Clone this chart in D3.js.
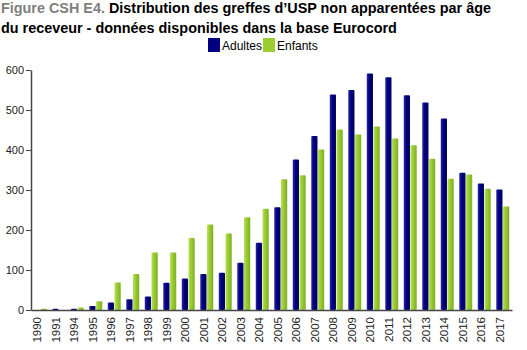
<!DOCTYPE html>
<html>
<head>
<meta charset="utf-8">
<script src="https://cdn.jsdelivr.net/npm/d3@7"></script>
<style>
  body { margin: 0; background: #fff; }
  svg { font-family: "Liberation Sans", Arial, sans-serif; }
</style>
</head>
<body>
<div id="chart"></div>
<script>
const years = ['1990','1991','1994','1995','1996','1997','1998','1999','2000','2001','2002','2003','2004',
    '2005','2006','2007','2008','2009','2010','2011','2012','2013','2014','2015','2016','2017'];
const adultes = [0, 3, 3, 10, 19, 27, 34, 68, 79, 90, 93, 118, 168, 257, 376, 435, 539, 550, 591, 582, 537, 519, 479, 343, 316, 301];
const enfants = [3, 0, 6, 22, 69, 90, 144, 144, 180, 214, 191, 232, 253, 327, 337, 401, 451, 439, 459, 429, 412, 378, 328, 339, 303, 259];
const seriesNames = ['Adultes', 'Enfants'];
const yTicks = [0, 100, 200, 300, 400, 500, 600];

const WIDTH = 527;
const HEIGHT = 350;
const LEFT = 31;
const RIGHT = 512;
const TOP = 70;
const BOTTOM = 310;
const colors = { Adultes: '#000080', Enfants: '#9acd32' };

const svg = d3.select('#chart')
    .append('svg')
    .attr('width', WIDTH)
    .attr('height', HEIGHT);

// gradients for the slight 3D look
const defs = svg.append('defs');
const grads = [['Adultes', '#2a2aa8', '#000080', '#000060'], ['Enfants', '#b8e05a', '#9acd32', '#7fae22']];
grads.forEach(([name, c1, c2, c3]) => {
    const g = defs.append('linearGradient')
        .attr('id', 'grad-' + name)
        .attr('x1', '0%').attr('x2', '100%').attr('y1', '0%').attr('y2', '0%');
    g.append('stop').attr('offset', '0%').attr('stop-color', c1);
    g.append('stop').attr('offset', '40%').attr('stop-color', c2);
    g.append('stop').attr('offset', '100%').attr('stop-color', c3);
});

// Title
const title = svg.append('g').attr('font-size', 14.4).attr('font-weight', 'bold');
const t1 = title.append('text').attr('x', 1).attr('y', 13);
t1.append('tspan').attr('fill', '#808080').text('Figure CSH E4. ');
t1.append('tspan').attr('fill', '#000').text('Distribution des greffes d\u2019USP non apparentées par âge');
title.append('text').attr('x', 1).attr('y', 33).attr('fill', '#000')
    .text('du receveur - données disponibles dans la base Eurocord');

// Scales
const xScale = d3.scaleBand()
    .domain(years)
    .range([LEFT, RIGHT])
    .paddingInner(0.3)
    .paddingOuter(0.15);

const xInner = d3.scaleBand()
    .domain(seriesNames)
    .range([0, xScale.bandwidth()])
    .paddingInner(0.08);

const yScale = d3.scaleLinear()
    .domain([0, 600])
    .range([BOTTOM, TOP]);

// Bars
const rows = years.map((y, i) => ({ year: y, values: [
    { key: 'Adultes', value: adultes[i] },
    { key: 'Enfants', value: enfants[i] }
] }));

svg.append('g')
    .selectAll('g')
    .data(rows)
    .enter()
    .append('g')
    .attr('transform', d => `translate(${xScale(d.year)},0)`)
    .selectAll('rect')
    .data(d => d.values)
    .enter()
    .append('rect')
    .attr('x', d => xInner(d.key))
    .attr('width', xInner.bandwidth())
    .attr('y', d => yScale(d.value))
    .attr('height', d => BOTTOM - yScale(d.value))
    .attr('rx', 1)
    .attr('fill', d => `url(#grad-${d.key})`);

// Axes
const yAxis = d3.axisLeft(yScale)
    .tickValues(yTicks)
    .tickSize(5)
    .tickPadding(2)
    .tickSizeOuter(0);
const yG = svg.append('g')
    .attr('transform', `translate(${LEFT}, 0)`)
    .call(yAxis);
yG.select('.domain').attr('stroke', '#444').attr('stroke-width', 1.5);
yG.selectAll('.tick line').attr('stroke', '#444');
yG.selectAll('.tick text').attr('font-size', 11).attr('fill', '#222')
    .attr('font-family', '"Liberation Sans Narrow", "Arial Narrow", sans-serif');

const xAxis = d3.axisBottom(xScale)
    .tickSize(0)
    .tickSizeOuter(0);
const xG = svg.append('g')
    .attr('transform', `translate(0, ${BOTTOM})`)
    .call(xAxis);
xG.select('.domain').attr('stroke', '#444').attr('stroke-width', 1.5);
xG.selectAll('.tick text')
    .attr('font-size', 11.5)
    .attr('fill', '#222')
    .attr('font-family', '"Liberation Sans", Arial, sans-serif')
    .attr('transform', 'rotate(-90)')
    .attr('text-anchor', 'end')
    .attr('x', -7)
    .attr('y', -3)
    .attr('dy', '0.35em');

// Legend
const legend = svg.append('g').attr('font-size', 12);
const legendItems = [['Adultes', 208], ['Enfants', 263]];
legendItems.forEach(([name, x]) => {
    legend.append('rect')
        .attr('x', x).attr('y', 38)
        .attr('width', 12).attr('height', 14)
        .attr('fill', colors[name]);
    legend.append('text')
        .attr('x', x + 14).attr('y', 50)
        .attr('fill', '#000')
        .text(name);
});
</script>
</body>
</html>
